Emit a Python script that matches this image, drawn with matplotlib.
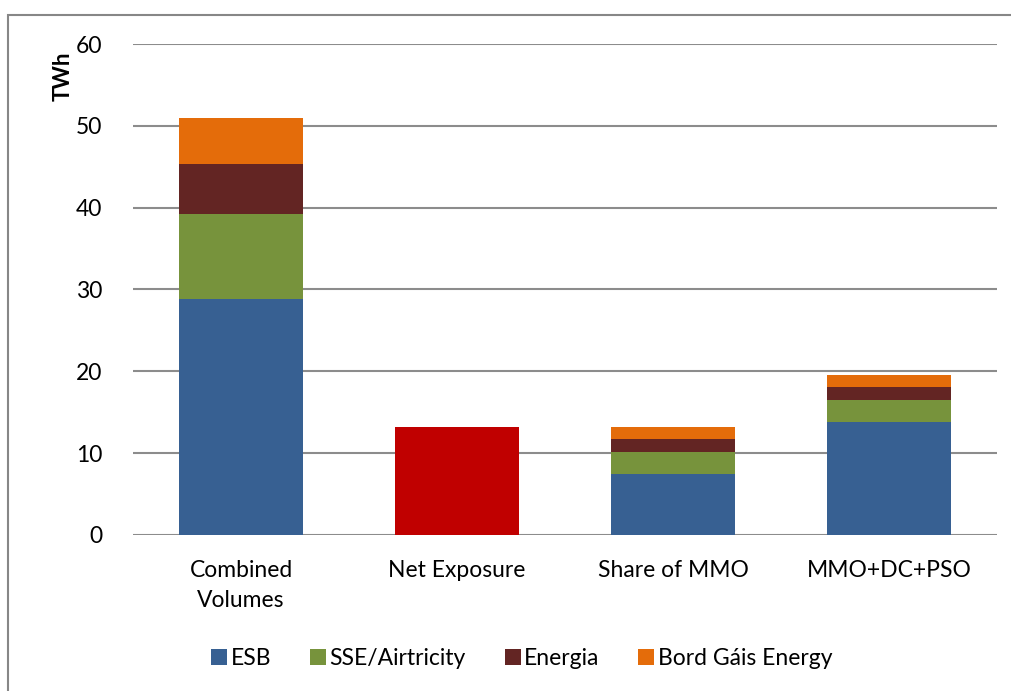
import numpy as np
import matplotlib.pyplot as plt
from matplotlib.patches import Rectangle

plt.rcParams['font.family'] = ['Lato', 'DejaVu Sans']

categories = ['Combined\nVolumes', 'Net Exposure', 'Share of MMO', 'MMO+DC+PSO']
esb = [28.8, 0, 7.4, 13.8]
sse = [10.4, 0, 2.7, 2.7]
energia = [6.1, 0, 1.6, 1.6]
bord_gais = [5.6, 0, 1.5, 1.5]
net_exposure = [0, 13.2, 0, 0]

series = [
    ('ESB', esb, '#376092'),
    ('SSE/Airtricity', sse, '#77933C'),
    ('Energia', energia, '#632523'),
    ('Bord Gáis Energy', bord_gais, '#E46C0A'),
]

fig = plt.figure(figsize=(10.11, 6.91), dpi=100)
ax = fig.add_axes([0.1316, 0.2258, 0.8546, 0.7105])

x = np.arange(len(categories))
width = 0.57
bottom = np.zeros(len(categories))
handles = []
for name, vals, col in series:
    b = ax.bar(x, vals, width, bottom=bottom, color=col, label=name, zorder=3)
    handles.append(b)
    bottom += np.array(vals)
ax.bar(x, net_exposure, width, color='#C00000', zorder=3)

ax.set_xlim(-0.5, len(categories) - 0.5)
ax.set_ylim(0, 60)
ax.set_yticks(range(0, 61, 10))
ax.set_xticks(x)
ax.set_xticklabels(categories, fontsize=16.5, linespacing=1.55)
ax.tick_params(axis='y', labelsize=16.5, length=0, pad=22)
ax.tick_params(axis='x', length=0, pad=18)
ax.yaxis.grid(True, color='#8c8c8c', lw=1.5, zorder=0)
for s in ax.spines.values():
    s.set_visible(False)

fig.text(0.062, 0.89, 'TWh', rotation=90, fontsize=16, fontweight='bold',
         ha='center', va='center')

fig.legend(handles=handles, loc='center', bbox_to_anchor=(0.516, 0.047), ncol=4,
           frameon=False, fontsize=16.5, handlelength=0.7, handleheight=0.7,
           handletextpad=0.15, columnspacing=1.7)

# outer chart frame
fig.patches.append(Rectangle((8 / 1011, -0.1), 1.2, 1.1 - 15 / 691,
                             transform=fig.transFigure, fill=False,
                             edgecolor='#878787', lw=1.5))

fig.savefig('out.png', dpi=100)
